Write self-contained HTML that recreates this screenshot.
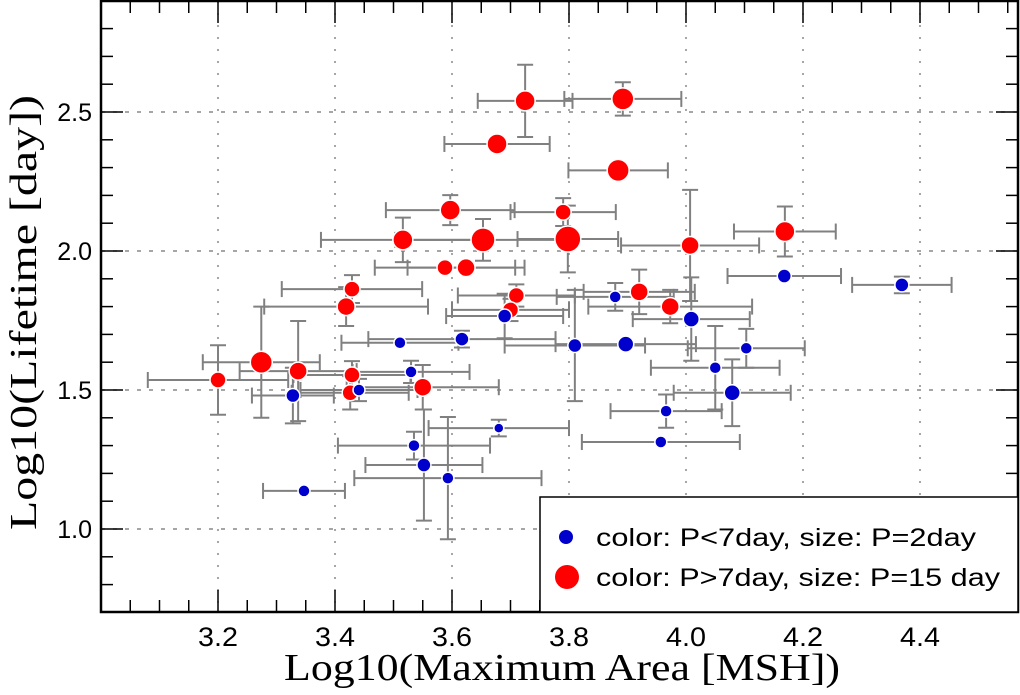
<!DOCTYPE html>
<html><head><meta charset="utf-8"><style>
html,body{margin:0;padding:0;background:#fff;}
svg{display:block;}
</style></head><body>
<svg id="chart" width="1020" height="695" xmlns="http://www.w3.org/2000/svg">
<g id="grid"></g>
<g id="errs"></g>
<g id="marks"></g>
<g id="axes"></g>
<g>
<rect x="540" y="497" width="478" height="115" fill="#fff" stroke="#000" stroke-width="1.5"/>
<circle cx="566" cy="537" r="7" fill="#0000cc"/>
<text x="596" y="546" font-family="Liberation Sans, sans-serif" font-size="25" textLength="380" lengthAdjust="spacingAndGlyphs">color: P&lt;7day, size: P=2day</text>
<circle cx="567" cy="577" r="12" fill="#ff0000"/>
<text x="596" y="586" font-family="Liberation Sans, sans-serif" font-size="25" textLength="404" lengthAdjust="spacingAndGlyphs">color: P&gt;7day, size: P=15 day</text>
</g>
<text x="284" y="680" font-family="Liberation Serif, serif" font-size="38" textLength="556" lengthAdjust="spacingAndGlyphs">Log10(Maximum Area [MSH])</text>
<text transform="translate(36,530) rotate(-90)" font-family="Liberation Serif, serif" font-size="38" textLength="435" lengthAdjust="spacingAndGlyphs">Log10(Lifetime [day])</text>
</svg>
<script>
const redX=[3.20,3.274,3.337,3.419,3.429,3.429,3.426,3.55,3.516,3.588,3.597,3.624,3.653,3.677,3.725,3.71,3.70,3.79,3.798,3.884,3.892,3.92,3.973,4.007,4.169];
const redY=[1.536,1.60,1.568,1.80,1.863,1.554,1.49,1.51,2.04,1.94,2.147,1.94,2.04,2.385,2.54,1.84,1.788,2.14,2.043,2.29,2.547,1.853,1.80,2.02,2.07];
const redXErr=[0.12,0.10,0.10,0.14,0.12,0.10,0.10,0.13,0.14,0.12,0.11,0.10,0.15,0.09,0.081,0.10,0.10,0.09,0.086,0.085,0.10,0.095,0.14,0.118,0.087];
const redYErr=[0.125,0.2,0.18,0.07,0.05,0.05,0.06,0.08,0.08,0.0,0.054,0.0,0.075,0.0,0.13,0.04,0.04,0.05,0.12,0.0,0.06,0.08,0.06,0.2,0.09];
const redSize=[8,11,9,9,8,8,8,9,10,8,10,9,12,10,10,8,8,8,13,11,11,9,9,9,10];
const blueX=[3.328,3.441,3.347,3.511,3.53,3.535,3.552,3.593,3.617,3.68,3.69,3.81,3.879,3.897,3.957,3.966,4.009,4.05,4.079,4.103,4.168,4.369];
const blueY=[1.48,1.50,1.137,1.67,1.565,1.30,1.23,1.183,1.683,1.363,1.766,1.66,1.835,1.665,1.313,1.424,1.755,1.58,1.49,1.65,1.91,1.878];
const blueXErr=[0.07,0.10,0.07,0.10,0.10,0.13,0.10,0.16,0.16,0.12,0.10,0.12,0.10,0.12,0.135,0.095,0.10,0.11,0.10,0.10,0.097,0.085];
const blueYErr=[0.10,0.04,0.0,0.0,0.04,0.05,0.2,0.22,0.03,0.03,0.08,0.2,0.05,0.0,0.0,0.06,0.15,0.15,0.12,0.07,0.0,0.03];
const blueSize=[7,6,6,6,6,6,7,6,7,5,7,7,6,8,6,6,8,6,8,6,7,7];
const xTicks=[3.2,3.4,3.6,3.8,4.0,4.2,4.4];
const xTickLabels=["3.2","3.4","3.6","3.8","4.0","4.2","4.4"];
const yTicks=[1.0,1.5,2.0,2.5];
const yTickLabels=["1.0","1.5","2.0","2.5"];

const L=101,R=1018,T=1,B=612;
function xs(v){return 218+(v-3.2)*585;}
function ys(v){return 390-(v-1.5)*278;}
const NS="http://www.w3.org/2000/svg";
function mk(tag,attrs,parent){const e=document.createElementNS(NS,tag);for(const k in attrs)e.setAttribute(k,attrs[k]);parent.appendChild(e);return e;}
const grid=document.getElementById('grid'),axes=document.getElementById('axes'),errs=document.getElementById('errs'),marks=document.getElementById('marks');
xTicks.forEach((v,i)=>{
  const g=mk('line',{x1:xs(v),x2:xs(v),y1:T,y2:B,stroke:'#888','stroke-width':1.5,'stroke-dasharray':'2 10'},grid);
  
  
  const t=mk('text',{x:xs(v),y:646,'text-anchor':'middle','font-family':'Liberation Sans, sans-serif','font-size':27,textLength:40,lengthAdjust:'spacingAndGlyphs'},axes);
  t.textContent=xTickLabels[i];
  
  
});
yTicks.forEach((v,i)=>{
  const g=mk('line',{x1:L,x2:R,y1:ys(v),y2:ys(v),stroke:'#888','stroke-width':1.5,'stroke-dasharray':'4 8'},grid);
  
  
  const t=mk('text',{x:92,y:ys(v)+9,'text-anchor':'end','font-family':'Liberation Sans, sans-serif','font-size':25},axes);
  t.textContent=yTickLabels[i];
  
  
});
for(let k=0;k<=32;k++){const v=3.0+k*0.05;const x=xs(v);if(x<L||x>R)continue;const major=Math.abs((v*10)%2)<0.01||Math.abs((v*10)%2-2)<0.01;const len=major?22:12;
  mk('line',{x1:x,x2:x,y1:B,y2:B-len,stroke:'#000','stroke-width':1.5},axes);
  mk('line',{x1:x,x2:x,y1:T,y2:T+len,stroke:'#000','stroke-width':1.5},axes);}
for(let k=0;k<=25;k++){const v=0.7+k*0.1;const y=ys(v);if(y<T||y>B)continue;const major=Math.abs(v*2-Math.round(v*2))<0.01;const len=major?22:12;
  mk('line',{x1:L,x2:L+len,y1:y,y2:y,stroke:'#000','stroke-width':1.5},axes);
  mk('line',{x1:R,x2:R-len,y1:y,y2:y,stroke:'#000','stroke-width':1.5},axes);}
const fr=mk('rect',{x:L,y:T,width:R-L,height:B-T,fill:'none',stroke:'#000','stroke-width':2.5},axes);



function drawSeries(X,Y,XE,YE,S,color,name){
  X.forEach((v,i)=>{
    const cx=xs(v),cy=ys(Y[i]);const g=mk('g',{stroke:'#808080','stroke-width':2,fill:'none'},errs);
    
    
    const x0=xs(v-XE[i]),x1=xs(v+XE[i]);
    mk('line',{x1:x0,x2:x1,y1:cy,y2:cy},g);
    mk('line',{x1:x0,x2:x0,y1:cy-8,y2:cy+8},g);
    mk('line',{x1:x1,x2:x1,y1:cy-8,y2:cy+8},g);
    if(YE[i]>0){const y0=ys(Y[i]-YE[i]),y1=ys(Y[i]+YE[i]);
      mk('line',{x1:cx,x2:cx,y1:y0,y2:y1},g);
      mk('line',{x1:cx-8,x2:cx+8,y1:y0,y2:y0},g);
      mk('line',{x1:cx-8,x2:cx+8,y1:y1,y2:y1},g);}
  });
  X.forEach((v,i)=>{
    const c=mk('circle',{cx:xs(v),cy:ys(Y[i]),r:S[i],fill:color,stroke:'#fff','stroke-width':1.5},marks);
    
    
  });
}
drawSeries(redX,redY,redXErr,redYErr,redSize,'#ff0000','long-period');
drawSeries(blueX,blueY,blueXErr,blueYErr,blueSize,'#0000cc','short-period');
</script>
</body></html>
